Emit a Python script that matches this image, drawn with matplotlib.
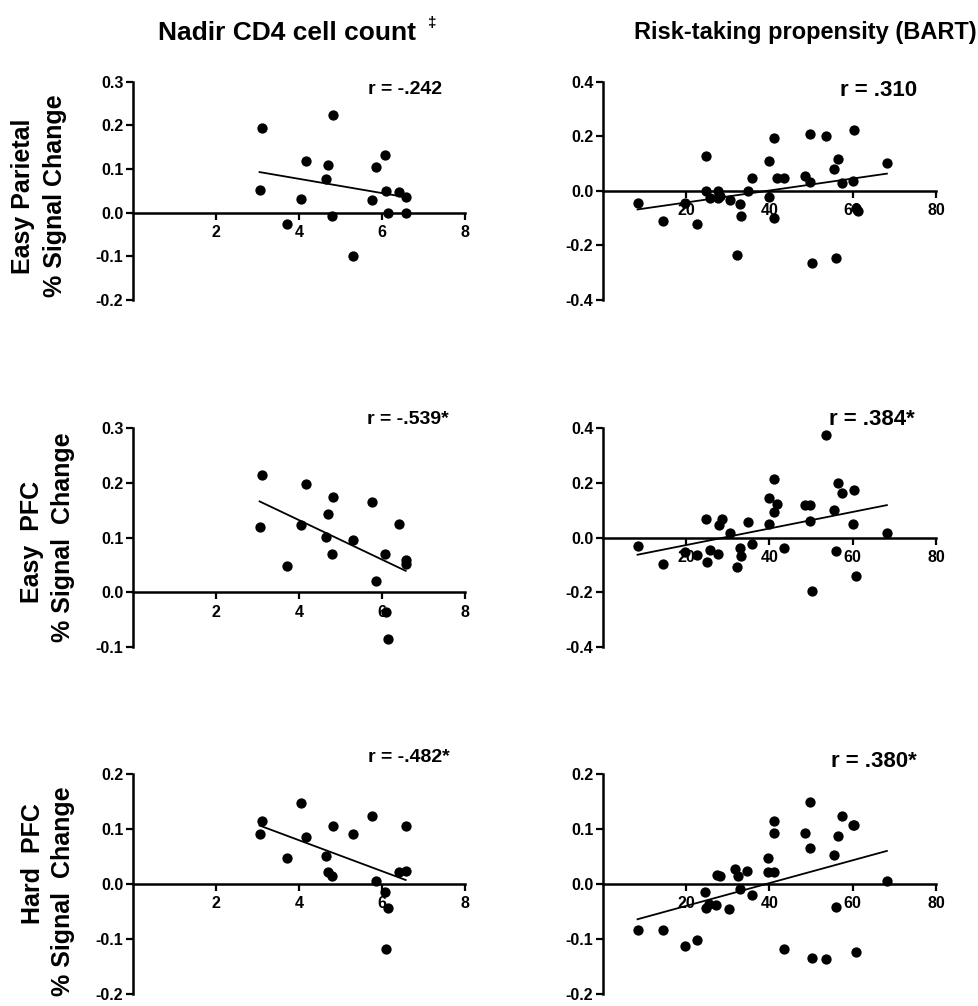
import numpy as np
import matplotlib
matplotlib.use('Agg')
import matplotlib.pyplot as plt
from matplotlib.ticker import FormatStrFormatter, MultipleLocator

plt.rcParams['font.family'] = ['Liberation Sans', 'DejaVu Sans']
plt.rcParams['font.weight'] = 'bold'
plt.rcParams['axes.unicode_minus'] = False

# nadir CD4 cell count (x, left column), same subjects in every row
cd4 = [3.05, 3.10, 3.72, 4.06, 4.18, 4.66, 4.70, 4.79, 4.83,
       5.31, 5.77, 5.86, 6.08, 6.10, 6.15, 6.40, 6.57, 6.57]
parietal_easy_cd4 = [0.052, 0.193, -0.026, 0.031, 0.118, 0.077, 0.108, -0.008, 0.224,
                     -0.099, 0.029, 0.105, 0.131, 0.050, -0.002, 0.048, 0.035, 0.000]
pfc_easy_cd4 = [0.120, 0.215, 0.048, 0.122, 0.198, 0.101, 0.143, 0.070, 0.174,
                0.095, 0.164, 0.020, 0.070, -0.036, -0.085, 0.124, 0.059, 0.052]
pfc_hard_cd4 = [0.091, 0.115, 0.047, 0.148, 0.086, 0.051, 0.021, 0.015, 0.106,
                0.091, 0.123, 0.005, -0.015, -0.119, -0.043, 0.021, 0.106, 0.024]

# risk-taking propensity (BART, right column)
bart_parietal = [8.3, 14.5, 19.8, 22.7, 24.8, 24.8, 25.6, 27.7, 28.1, 27.7, 30.5, 32.1,
                 32.9, 33.1, 34.9, 35.9, 39.9, 39.9, 41.1, 41.0, 41.8, 43.6, 48.5, 49.8,
                 49.8, 50.2, 53.5, 55.5, 55.9, 56.5, 57.3, 60.1, 60.2, 60.9, 61.3, 68.2]
parietal_easy_bart = [-0.044, -0.109, -0.046, -0.123, 0.129, 0.000, -0.028, 0.000, -0.018, -0.026,
                      -0.034, -0.235, -0.049, -0.092, 0.000, 0.045, 0.108, -0.024, 0.193, -0.101,
                      0.047, 0.047, 0.053, 0.209, 0.033, -0.263, 0.201, 0.078, -0.247, 0.118,
                      0.027, 0.035, 0.221, -0.062, -0.073, 0.103]

bart_pfc_easy = [8.3, 14.5, 19.6, 22.7, 24.8, 25.0, 25.6, 27.7, 27.8, 28.5, 30.5, 32.1,
                 32.9, 33.1, 34.9, 35.9, 39.9, 39.9, 41.1, 41.0, 41.8, 43.6, 48.5, 49.8,
                 49.8, 50.2, 53.5, 55.5, 55.9, 56.5, 57.3, 60.1, 60.2, 60.9, 68.2]
pfc_easy_bart = [-0.032, -0.098, -0.053, -0.065, 0.068, -0.088, -0.046, -0.061, 0.045, 0.068,
                 0.015, -0.108, -0.037, -0.068, 0.057, -0.022, 0.143, 0.048, 0.215, 0.094,
                 0.122, -0.037, 0.119, 0.119, 0.061, -0.195, 0.373, 0.100, -0.050, 0.198,
                 0.161, 0.051, 0.173, -0.142, 0.018]

bart_pfc_hard = [8.3, 14.3, 19.6, 22.5, 24.6, 24.7, 25.5, 27.2, 27.5, 28.0, 30.2, 31.8,
                 32.4, 32.8, 34.6, 35.7, 39.7, 39.7, 41.1, 41.1, 41.0, 43.6, 48.5, 49.8,
                 49.8, 50.2, 53.5, 55.5, 55.9, 56.5, 57.3, 60.1, 60.3, 60.9, 68.2]
pfc_hard_bart = [-0.083, -0.083, -0.112, -0.101, -0.015, -0.043, -0.037, -0.038, 0.016, 0.015,
                 -0.046, 0.027, 0.015, -0.009, 0.024, -0.020, 0.047, 0.021, 0.115, 0.092,
                 0.021, -0.118, 0.092, 0.149, 0.066, -0.134, -0.136, 0.052, -0.041, 0.087,
                 0.124, 0.107, 0.107, -0.124, 0.006]

r_labels = ['r = -.242', 'r = .310', 'r = -.539*', 'r = .384*', 'r = -.482*', 'r = .380*']
col_titles = ['Nadir CD4 cell count', 'Risk-taking propensity (BART)']
row_labels = [('Easy Parietal', '% Signal Change'),
              ('Easy  PFC', '% Signal  Change'),
              ('Hard  PFC', '% Signal  Change')]

panels = [
    (cd4, parietal_easy_cd4, (-0.2, 0.3), 0.1, (0, 8), 2),
    (bart_parietal, parietal_easy_bart, (-0.4, 0.4), 0.2, (0, 80), 20),
    (cd4, pfc_easy_cd4, (-0.1, 0.3), 0.1, (0, 8), 2),
    (bart_pfc_easy, pfc_easy_bart, (-0.4, 0.4), 0.2, (0, 80), 20),
    (cd4, pfc_hard_cd4, (-0.2, 0.2), 0.1, (0, 8), 2),
    (bart_pfc_hard, pfc_hard_bart, (-0.2, 0.2), 0.1, (0, 80), 20),
]
r_pos = [(0.93, 0.963), (0.943, 0.959), (0.952, 1.037), (0.937, 1.037),
         (0.955, 1.077), (0.943, 1.055)]
r_size = [14, 16, 14, 16, 14, 16]

W, H = 979, 1006
fig = plt.figure(figsize=(W / 100, H / 100), dpi=100)

col_left = [133, 603]
col_width = [332, 333]
row_top = [81.5, 428, 774]
row_bottom = [300, 647, 994]

for i, (x, y, ylim, ystep, xlim, xstep) in enumerate(panels):
    r, c = divmod(i, 2)
    ax = fig.add_axes([col_left[c] / W, 1 - row_bottom[r] / H,
                       col_width[c] / W, (row_bottom[r] - row_top[r]) / H])
    x = np.array(x)
    y = np.array(y)
    ax.scatter(x, y, s=55, color='black', zorder=3, clip_on=False, linewidths=0)
    slope, icpt = np.polyfit(x, y, 1)
    xs = np.array([x.min(), x.max()])
    ax.plot(xs, slope * xs + icpt, color='black', lw=1.3)

    ax.set_xlim(*xlim)
    ax.set_ylim(*ylim)
    ax.spines['top'].set_visible(False)
    ax.spines['right'].set_visible(False)
    ax.spines['bottom'].set_position(('data', 0))
    ax.spines['left'].set_linewidth(1.8)
    ax.spines['bottom'].set_linewidth(1.8)
    ax.set_xticks(np.arange(xstep, xlim[1] + 0.01, xstep))
    ax.yaxis.set_major_locator(MultipleLocator(ystep))
    ax.yaxis.set_major_formatter(FormatStrFormatter('%.1f'))
    ax.tick_params(axis='both', direction='out', length=5, width=1.6,
                   labelsize=11.5)
    ax.tick_params(axis='y', pad=2)
    ax.tick_params(axis='x', pad=4)
    ax.text(r_pos[i][0], r_pos[i][1], r_labels[i], transform=ax.transAxes,
            ha='right', va='center', fontsize=r_size[i], fontweight='bold')

# column titles
fig.text(158 / W, 1 - 33 / H, col_titles[0], ha='left', va='center',
         fontsize=19, fontweight='bold')
fig.text(432 / W, 1 - 23 / H, '\u2021', ha='center', va='center',
         fontsize=11, fontweight='bold')
fig.text(805 / W, 1 - 33 / H, col_titles[1], ha='center', va='center',
         fontsize=17, fontweight='bold')

# row labels
label_x = [(23, 55), (32, 63), (33, 63)]
label_y = [(196, 196), (542, 537), (864, 891)]
for r, (l1, l2) in enumerate(row_labels):
    fig.text(label_x[r][0] / W, 1 - label_y[r][0] / H, l1, rotation=90,
             ha='center', va='center', fontsize=18, fontweight='bold')
    fig.text(label_x[r][1] / W, 1 - label_y[r][1] / H, l2, rotation=90,
             ha='center', va='center', fontsize=18, fontweight='bold')

fig.savefig('out.png', dpi=100, facecolor='white')
